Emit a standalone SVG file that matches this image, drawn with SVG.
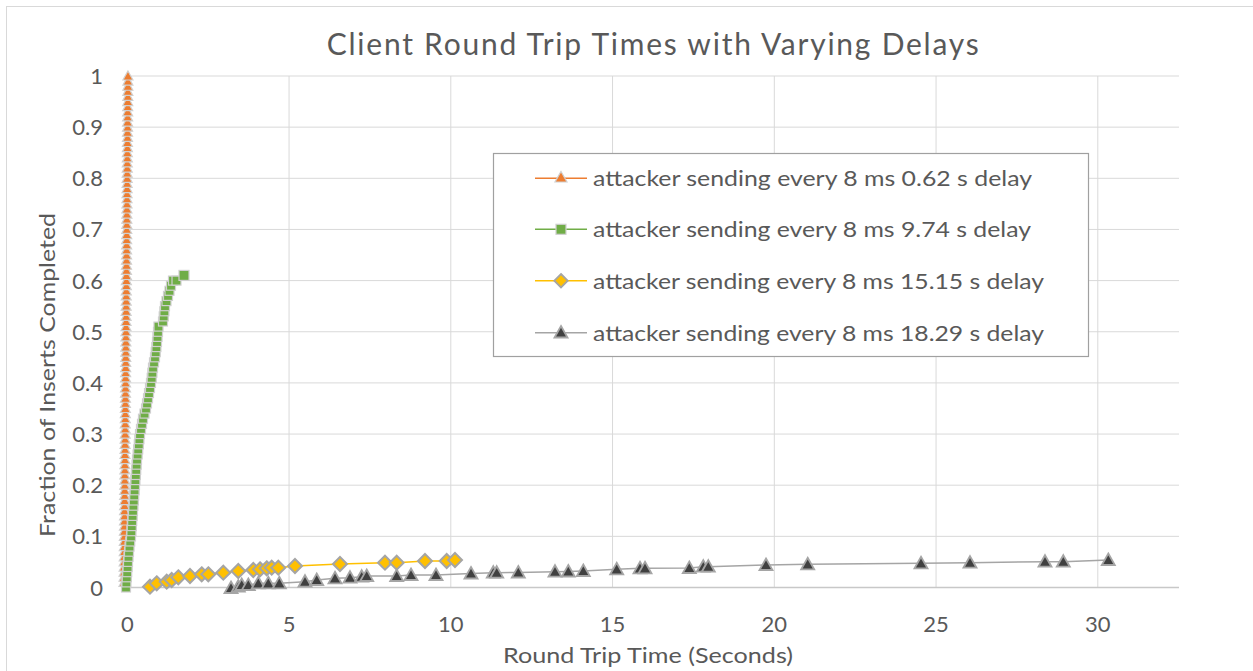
<svg xmlns="http://www.w3.org/2000/svg" xmlns:xlink="http://www.w3.org/1999/xlink" width="1253" height="671" viewBox="0 0 1253 671">
<style>
text{font-family:Lato,"Open Sans","Liberation Sans",sans-serif;fill:#595959}
.tick{font-size:22px}
.grid line{stroke:#d9d9d9;stroke-width:1}
.leg{font-size:22px}
</style>
<defs>
<path id="ot" d="M0,-5 L5,4 L-5,4 Z" fill="#ED7D31" stroke="#d0d0d0" stroke-width="1.2"/>
<rect id="gs" x="-4.5" y="-4.5" width="9" height="9" fill="#70AD47" stroke="#d0d0d0" stroke-width="1.2"/>
<path id="yd" d="M0,-7 L7,0 L0,7 L-7,0 Z" fill="#FFC000" stroke="#a5a5a5" stroke-width="2"/>
<path id="kt" d="M0,-6.5 L6.5,5 L-6.5,5 Z" fill="#404040" stroke="#a5a5a5" stroke-width="1.8"/>
<g id="o10">
<use href="#ot" x="0" y="0"/><use href="#ot" x="0.04" y="-5.115"/><use href="#ot" x="0.08" y="-10.23"/><use href="#ot" x="0.12" y="-15.345"/><use href="#ot" x="0.16" y="-20.46"/><use href="#ot" x="0.2" y="-25.575"/><use href="#ot" x="0.24" y="-30.69"/><use href="#ot" x="0.28" y="-35.805"/><use href="#ot" x="0.32" y="-40.92"/><use href="#ot" x="0.36" y="-46.035"/>
</g>
</defs>
<rect x="6.5" y="6.5" width="1300" height="700" fill="#fff" stroke="#d9d9d9" stroke-width="1"/>
<g id="title"><text x="326.7" y="55" font-size="30" textLength="652" lengthAdjust="spacing">Client Round Trip Times with Varying Delays</text></g>
<g id="grid" class="grid">
<line x1="127.3" y1="76" x2="1179" y2="76"/>
<line x1="127.3" y1="127.15" x2="1179" y2="127.15"/>
<line x1="127.3" y1="178.3" x2="1179" y2="178.3"/>
<line x1="127.3" y1="229.45" x2="1179" y2="229.45"/>
<line x1="127.3" y1="280.6" x2="1179" y2="280.6"/>
<line x1="127.3" y1="331.75" x2="1179" y2="331.75"/>
<line x1="127.3" y1="382.9" x2="1179" y2="382.9"/>
<line x1="127.3" y1="434.05" x2="1179" y2="434.05"/>
<line x1="127.3" y1="485.2" x2="1179" y2="485.2"/>
<line x1="127.3" y1="536.35" x2="1179" y2="536.35"/>
<line x1="127.3" y1="76" x2="127.3" y2="587.5"/>
<line x1="289.05" y1="76" x2="289.05" y2="587.5"/>
<line x1="450.8" y1="76" x2="450.8" y2="587.5"/>
<line x1="612.55" y1="76" x2="612.55" y2="587.5"/>
<line x1="774.3" y1="76" x2="774.3" y2="587.5"/>
<line x1="936.05" y1="76" x2="936.05" y2="587.5"/>
<line x1="1097.8" y1="76" x2="1097.8" y2="587.5"/>
<line x1="127.3" y1="587.5" x2="1179" y2="587.5" style="stroke:#c8c8c8;stroke-width:1.3"/>
</g>
<g id="y-ticks" class="tick" text-anchor="end">
<text x="103" y="595.5">0</text>
<text x="103" y="544.35">0.1</text>
<text x="103" y="493.2">0.2</text>
<text x="103" y="442.05">0.3</text>
<text x="103" y="390.9">0.4</text>
<text x="103" y="339.75">0.5</text>
<text x="103" y="288.6">0.6</text>
<text x="103" y="237.45">0.7</text>
<text x="103" y="186.3">0.8</text>
<text x="103" y="135.15">0.9</text>
<text x="103" y="84">1</text>
</g>
<g id="x-ticks" class="tick" text-anchor="middle">
<text x="127.3" y="632">0</text>
<text x="289.05" y="632">5</text>
<text x="450.8" y="632">10</text>
<text x="612.55" y="632">15</text>
<text x="774.3" y="632">20</text>
<text x="936.05" y="632">25</text>
<text x="1097.8" y="632">30</text>
</g>
<g id="y-title"><text transform="translate(55,375) rotate(-90)" text-anchor="middle" font-size="21" textLength="324" lengthAdjust="spacingAndGlyphs">Fraction of Inserts Completed</text></g>
<g id="x-title"><text x="648" y="663" text-anchor="middle" font-size="22" textLength="290" lengthAdjust="spacingAndGlyphs">Round Trip Time (Seconds)</text></g>
<g id="series-orange">
<polyline points="124,587.5 128,76" fill="none" stroke="#ED7D31" stroke-width="1.5"/>
<use href="#o10" transform="translate(124,582.385)"/>
<use href="#o10" transform="translate(124.4,531.235)"/>
<use href="#o10" transform="translate(124.8,480.085)"/>
<use href="#o10" transform="translate(125.2,428.935)"/>
<use href="#o10" transform="translate(125.6,377.785)"/>
<use href="#o10" transform="translate(126,326.635)"/>
<use href="#o10" transform="translate(126.4,275.485)"/>
<use href="#o10" transform="translate(126.8,224.335)"/>
<use href="#o10" transform="translate(127.2,173.185)"/>
<use href="#o10" transform="translate(127.6,122.035)"/>
</g>
<g id="series-green">
<polyline points="126,587.5 131,536.4 135,485.2 140,434.1 151,382.9 158,331.8 158.5,326.6 163,321.5 165,306.2 171,285.7 173,280.6 176.5,280.6 184,275.4" fill="none" stroke="#70AD47" stroke-width="1.5"/>
<use href="#gs" x="126" y="587.5"/><use href="#gs" x="126.4" y="582.4"/><use href="#gs" x="126.8" y="577.3"/><use href="#gs" x="127.2" y="572.2"/><use href="#gs" x="127.6" y="567"/><use href="#gs" x="128" y="561.9"/><use href="#gs" x="128.5" y="556.8"/><use href="#gs" x="129" y="551.7"/><use href="#gs" x="129.5" y="546.6"/><use href="#gs" x="130.2" y="541.5"/>
<use href="#gs" x="131" y="536.4"/><use href="#gs" x="131.4" y="531.2"/><use href="#gs" x="131.8" y="526.1"/><use href="#gs" x="132.2" y="521"/><use href="#gs" x="132.6" y="515.9"/><use href="#gs" x="133" y="510.8"/><use href="#gs" x="133.4" y="505.7"/><use href="#gs" x="133.8" y="500.5"/><use href="#gs" x="134.2" y="495.4"/><use href="#gs" x="134.6" y="490.3"/>
<use href="#gs" x="135" y="485.2"/><use href="#gs" x="135.4" y="480.1"/><use href="#gs" x="135.8" y="475"/><use href="#gs" x="136.2" y="469.9"/><use href="#gs" x="136.6" y="464.7"/><use href="#gs" x="137" y="459.6"/><use href="#gs" x="137.6" y="454.5"/><use href="#gs" x="138.2" y="449.4"/><use href="#gs" x="138.8" y="444.3"/><use href="#gs" x="139.4" y="439.2"/>
<use href="#gs" x="140" y="434.1"/><use href="#gs" x="141" y="428.9"/><use href="#gs" x="142" y="423.8"/><use href="#gs" x="143" y="418.7"/><use href="#gs" x="144.5" y="413.6"/><use href="#gs" x="146" y="408.5"/><use href="#gs" x="147" y="403.4"/><use href="#gs" x="148" y="398.3"/><use href="#gs" x="149" y="393.1"/><use href="#gs" x="150" y="388"/>
<use href="#gs" x="151" y="382.9"/><use href="#gs" x="151.7" y="377.8"/><use href="#gs" x="152.4" y="372.7"/><use href="#gs" x="153" y="367.6"/><use href="#gs" x="154" y="362.4"/><use href="#gs" x="155" y="357.3"/><use href="#gs" x="155.7" y="352.2"/><use href="#gs" x="156.4" y="347.1"/><use href="#gs" x="157" y="342"/><use href="#gs" x="157.5" y="336.9"/>
<use href="#gs" x="158" y="331.8"/><use href="#gs" x="158.5" y="326.6"/><use href="#gs" x="163" y="321.5"/><use href="#gs" x="163.7" y="316.4"/><use href="#gs" x="164.4" y="311.3"/><use href="#gs" x="165" y="306.2"/><use href="#gs" x="166.5" y="301.1"/><use href="#gs" x="168" y="295.9"/><use href="#gs" x="169.5" y="290.8"/><use href="#gs" x="171" y="285.7"/>
<use href="#gs" x="173" y="280.6"/><use href="#gs" x="176.5" y="280.6"/>
<rect x="179" y="270.4" width="10" height="10" fill="#70AD47" stroke="#d0d0d0" stroke-width="1.2"/>
</g>
<g id="series-yellow">
<polyline points="150,586.7 156.7,583.3 166.7,581.7 171.7,580 178.3,577.3 190,576 201.7,574.3 208.3,574.3 223.3,572.7 238.3,571 253.3,570 260,569.3 266.7,568.3 271.7,567.7 278.3,567.7 295,566 340,564 385,562.7 396.7,562.7 425,561 446.7,561 455,560" fill="none" stroke="#FFC000" stroke-width="1.5"/>
<use href="#yd" x="150" y="586.7"/><use href="#yd" x="156.7" y="583.3"/><use href="#yd" x="166.7" y="581.7"/><use href="#yd" x="171.7" y="580"/><use href="#yd" x="178.3" y="577.3"/><use href="#yd" x="190" y="576"/><use href="#yd" x="201.7" y="574.3"/><use href="#yd" x="208.3" y="574.3"/><use href="#yd" x="223.3" y="572.7"/><use href="#yd" x="238.3" y="571"/><use href="#yd" x="253.3" y="570"/><use href="#yd" x="260" y="569.3"/><use href="#yd" x="266.7" y="568.3"/><use href="#yd" x="271.7" y="567.7"/><use href="#yd" x="278.3" y="567.7"/><use href="#yd" x="295" y="566"/><use href="#yd" x="340" y="564"/><use href="#yd" x="385" y="562.7"/><use href="#yd" x="396.7" y="562.7"/><use href="#yd" x="425" y="561"/><use href="#yd" x="446.7" y="561"/><use href="#yd" x="455" y="560"/>
</g>
<g id="series-gray">
<polyline points="231,588 238.3,586.7 241.7,585 248.3,585 258.3,583.3 268.3,583.3 279.3,583.3 305,581.7 316.7,580 335,578.3 350,577.7 361.7,576.7 366.7,576 396.7,576 411,575 436,575 471,573.5 493.3,572.7 496.7,572.7 518.3,572.5 555,571.7 568.3,571.5 583.3,571 616.7,569.3 640,568.3 645,568.3 689.3,568 703.3,566.7 708.3,566.7 766,565 807.7,564.3 921,563.3 970,562.7 1045,561.7 1063.3,561.7 1108.3,560" fill="none" stroke="#a5a5a5" stroke-width="1.5"/>
<use href="#kt" x="231" y="588"/><use href="#kt" x="238.3" y="586.7"/><use href="#kt" x="241.7" y="585"/><use href="#kt" x="248.3" y="585"/><use href="#kt" x="258.3" y="583.3"/><use href="#kt" x="268.3" y="583.3"/><use href="#kt" x="279.3" y="583.3"/><use href="#kt" x="305" y="581.7"/><use href="#kt" x="316.7" y="580"/><use href="#kt" x="335" y="578.3"/><use href="#kt" x="350" y="577.7"/><use href="#kt" x="361.7" y="576.7"/><use href="#kt" x="366.7" y="576"/><use href="#kt" x="396.7" y="576"/><use href="#kt" x="411" y="575"/><use href="#kt" x="436" y="575"/><use href="#kt" x="471" y="573.5"/><use href="#kt" x="493.3" y="572.7"/><use href="#kt" x="496.7" y="572.7"/><use href="#kt" x="518.3" y="572.5"/><use href="#kt" x="555" y="571.7"/><use href="#kt" x="568.3" y="571.5"/><use href="#kt" x="583.3" y="571"/><use href="#kt" x="616.7" y="569.3"/><use href="#kt" x="640" y="568.3"/><use href="#kt" x="645" y="568.3"/><use href="#kt" x="689.3" y="568"/><use href="#kt" x="703.3" y="566.7"/><use href="#kt" x="708.3" y="566.7"/><use href="#kt" x="766" y="565"/><use href="#kt" x="807.7" y="564.3"/><use href="#kt" x="921" y="563.3"/><use href="#kt" x="970" y="562.7"/><use href="#kt" x="1045" y="561.7"/><use href="#kt" x="1063.3" y="561.7"/><use href="#kt" x="1108.3" y="560"/>
</g>
<g id="legend">
<rect x="493.5" y="153.5" width="595" height="203" fill="#fff" stroke="#a0a0a0" stroke-width="1.2"/>
<line x1="535" y1="178.3" x2="587" y2="178.3" stroke="#ED7D31" stroke-width="1.5"/>
<path d="M561,171.5 L567,182 L555,182 Z" fill="#ED7D31" stroke="#d0d0d0" stroke-width="1.2"/>
<text class="leg" x="593" y="186.3" textLength="439" lengthAdjust="spacingAndGlyphs">attacker sending every 8 ms 0.62 s delay</text>
<line x1="535" y1="229.3" x2="587" y2="229.3" stroke="#70AD47" stroke-width="1.5"/>
<rect x="556" y="224.3" width="10" height="10" fill="#70AD47" stroke="#d0d0d0" stroke-width="1.2"/>
<text class="leg" x="593" y="237.3" textLength="438" lengthAdjust="spacingAndGlyphs">attacker sending every 8 ms 9.74 s delay</text>
<line x1="535" y1="280.7" x2="587" y2="280.7" stroke="#FFC000" stroke-width="1.5"/>
<path d="M561,274 L567.7,280.7 L561,287.4 L554.3,280.7 Z" fill="#FFC000" stroke="#a5a5a5" stroke-width="1.8"/>
<text class="leg" x="593" y="288.7" textLength="451" lengthAdjust="spacingAndGlyphs">attacker sending every 8 ms 15.15 s delay</text>
<line x1="535" y1="332.7" x2="587" y2="332.7" stroke="#a5a5a5" stroke-width="1.5"/>
<path d="M561,326 L567.5,337.5 L554.5,337.5 Z" fill="#404040" stroke="#a5a5a5" stroke-width="1.8"/>
<text class="leg" x="593" y="340.7" textLength="451" lengthAdjust="spacingAndGlyphs">attacker sending every 8 ms 18.29 s delay</text>
</g>
</svg>
